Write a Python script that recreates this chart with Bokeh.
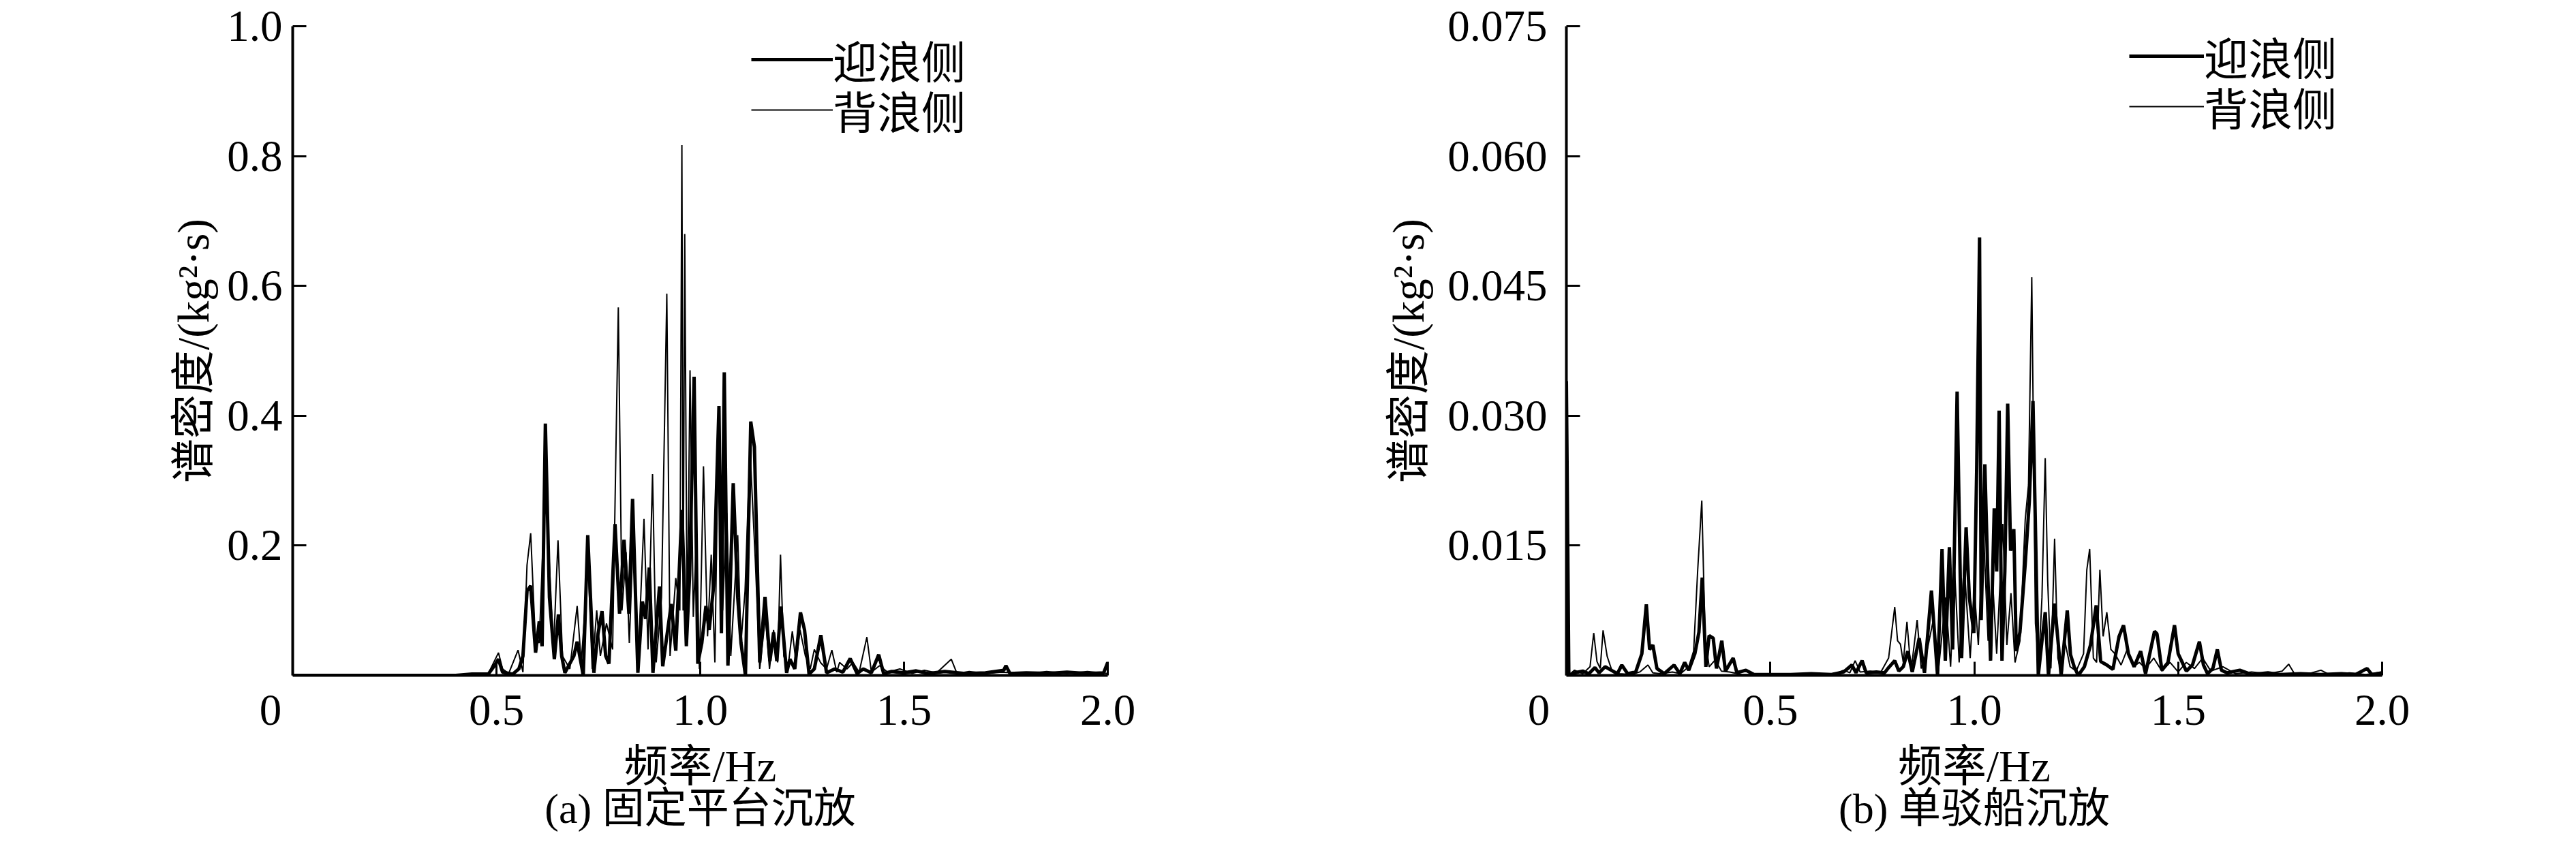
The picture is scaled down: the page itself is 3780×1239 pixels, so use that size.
from bokeh.plotting import figure
from bokeh.layouts import row
from bokeh.models import Range1d, FixedTicker, CustomJSTickFormatter, Legend, LegendItem, Title
from bokeh.embed import file_html
from bokeh.resources import INLINE

# ---------------- data ----------------
x_ticks = [0, 0.5, 1.0, 1.5, 2.0]
y_ticks_a = [0.2, 0.4, 0.6, 0.8, 1.0]
y_ticks_b = [0.015, 0.030, 0.045, 0.060, 0.075]
series_names = ["迎浪侧", "背浪侧"]
captions = ["(a) 固定平台沉放", "(b) 单驳船沉放"]
x_title = "频率/Hz"
y_title = "谱密度/(kg²·s)"

# (a) fixed platform, head-sea side (thick)
freq_a_head = [0.0, 0.40, 0.44, 0.48, 0.495, 0.505, 0.515, 0.54, 0.555, 0.565, 0.575, 0.584, 0.596, 0.605,
               0.612, 0.62, 0.63, 0.642, 0.652, 0.66, 0.668, 0.69, 0.698, 0.713, 0.724, 0.739, 0.748, 0.759,
               0.768, 0.776, 0.791, 0.802, 0.813, 0.825, 0.834, 0.847, 0.858, 0.866, 0.875, 0.884, 0.9, 0.908,
               0.918, 0.929, 0.94, 0.955, 0.966, 0.974, 0.985, 0.994, 1.004, 1.014, 1.022, 1.033, 1.046, 1.052,
               1.059, 1.068, 1.081, 1.092, 1.1, 1.111, 1.124, 1.133, 1.146, 1.159, 1.171, 1.18, 1.188, 1.198,
               1.212, 1.22, 1.232, 1.246, 1.256, 1.267, 1.28, 1.296, 1.31, 1.33, 1.35, 1.368, 1.385, 1.4, 1.42,
               1.438, 1.45, 1.47, 1.5, 1.53, 1.56, 1.6, 1.65, 1.7, 1.745, 1.75, 1.76, 1.8, 1.85, 1.9, 1.95,
               1.99, 2.0]
psd_a_head = [0.0, 0.0, 0.002, 0.002, 0.015, 0.025, 0.005, 0.002, 0.01, 0.03, 0.13, 0.138, 0.035, 0.083,
              0.045, 0.388, 0.12, 0.025, 0.094, 0.03, 0.004, 0.03, 0.052, 0.0, 0.216, 0.004, 0.06, 0.099,
              0.03, 0.018, 0.233, 0.095, 0.209, 0.095, 0.272, 0.004, 0.114, 0.087, 0.166, 0.004, 0.137, 0.014,
              0.06, 0.11, 0.038, 0.255, 0.045, 0.155, 0.46, 0.018, 0.05, 0.107, 0.07, 0.138, 0.415, 0.065,
              0.467, 0.015, 0.296, 0.12, 0.05, 0.0, 0.391, 0.352, 0.02, 0.121, 0.022, 0.066, 0.022, 0.106,
              0.004, 0.025, 0.01, 0.097, 0.07, 0.002, 0.01, 0.062, 0.004, 0.01, 0.005, 0.026, 0.003, 0.01, 0.004,
              0.032, 0.003, 0.006, 0.004, 0.007, 0.003, 0.006, 0.003, 0.004, 0.008, 0.015, 0.003, 0.004, 0.003,
              0.005, 0.003, 0.004, 0.02]

# (a) fixed platform, lee side (thin)
freq_a_back = [0.0, 0.44, 0.48, 0.505, 0.515, 0.53, 0.553, 0.565, 0.575, 0.584, 0.595, 0.605, 0.62, 0.64,
               0.651, 0.662, 0.68, 0.698, 0.708, 0.725, 0.735, 0.746, 0.755, 0.77, 0.785, 0.799, 0.808, 0.818,
               0.826, 0.836, 0.848, 0.862, 0.872, 0.883, 0.892, 0.905, 0.918, 0.926, 0.94, 0.95, 0.955, 0.958,
               0.962, 0.968, 0.975, 0.983, 0.99, 0.998, 1.008, 1.018, 1.027, 1.036, 1.045, 1.055, 1.065, 1.075,
               1.092, 1.1, 1.11, 1.122, 1.135, 1.146, 1.16, 1.17, 1.18, 1.19, 1.197, 1.205, 1.215, 1.226, 1.235,
               1.245, 1.258, 1.27, 1.28, 1.295, 1.31, 1.323, 1.335, 1.342, 1.36, 1.375, 1.39, 1.409, 1.42, 1.44,
               1.46, 1.49, 1.52, 1.55, 1.58, 1.616, 1.63, 1.66, 1.7, 1.74, 1.8, 1.85, 1.9, 1.95, 2.0]
psd_a_back = [0.0, 0.0, 0.003, 0.035, 0.01, 0.003, 0.039, 0.005, 0.17, 0.219, 0.06, 0.05, 0.30, 0.04,
              0.208, 0.03, 0.01, 0.107, 0.02, 0.17, 0.01, 0.10, 0.03, 0.08, 0.04, 0.567, 0.10, 0.19,
              0.05, 0.22, 0.03, 0.241, 0.04, 0.31, 0.02, 0.12, 0.588, 0.03, 0.15, 0.10, 0.817, 0.10,
              0.68, 0.06, 0.47, 0.09, 0.20, 0.01, 0.322, 0.06, 0.186, 0.02, 0.41, 0.10, 0.25, 0.03,
              0.216, 0.05, 0.13, 0.35, 0.18, 0.01, 0.09, 0.01, 0.07, 0.02, 0.186, 0.03, 0.01, 0.068, 0.02,
              0.07, 0.03, 0.01, 0.04, 0.02, 0.01, 0.039, 0.005, 0.02, 0.01, 0.02, 0.005, 0.059, 0.005, 0.015,
              0.005, 0.01, 0.003, 0.008, 0.004, 0.025, 0.003, 0.006, 0.003, 0.005, 0.003, 0.006, 0.003, 0.006, 0.003]

# (b) single barge, head-sea side (thick)
freq_b_head = [0.0, 0.006, 0.02, 0.04, 0.055, 0.07, 0.08, 0.095, 0.11, 0.125, 0.136, 0.15, 0.17, 0.185, 0.196,
               0.204, 0.212, 0.222, 0.24, 0.264, 0.278, 0.29, 0.3, 0.315, 0.325, 0.333, 0.342, 0.35, 0.36,
               0.368, 0.381, 0.39, 0.409, 0.418, 0.44, 0.46, 0.5, 0.55, 0.6, 0.65, 0.68, 0.7, 0.71, 0.725,
               0.735, 0.76, 0.78, 0.79, 0.805, 0.815, 0.826, 0.837, 0.848, 0.865, 0.878, 0.895, 0.91, 0.921,
               0.929, 0.939, 0.947, 0.958, 0.969, 0.98, 0.988, 0.999, 1.006, 1.013, 1.017, 1.026, 1.033, 1.04,
               1.049, 1.055, 1.061, 1.068, 1.075, 1.082, 1.089, 1.097, 1.103, 1.112, 1.125, 1.135, 1.144, 1.157,
               1.166, 1.174, 1.182, 1.197, 1.213, 1.228, 1.236, 1.245, 1.255, 1.27, 1.285, 1.299, 1.31, 1.325,
               1.34, 1.355, 1.366, 1.378, 1.392, 1.408, 1.42, 1.442, 1.448, 1.46, 1.475, 1.491, 1.5, 1.51, 1.52,
               1.535, 1.552, 1.562, 1.572, 1.585, 1.596, 1.606, 1.62, 1.651, 1.68, 1.72, 1.75, 1.8, 1.85, 1.9,
               1.935, 1.963, 1.975, 2.0]
psd_b_head = [0.034, 0.0, 0.0003, 0.0005, 0.0002, 0.0009, 0.0003, 0.001, 0.0006, 0.0002, 0.0012, 0.0002, 0.0004,
              0.0025, 0.0082, 0.003, 0.0035, 0.0008, 0.0002, 0.0012, 0.0002, 0.0015, 0.0006, 0.0025, 0.005,
              0.0113, 0.001, 0.0046, 0.0043, 0.0008, 0.004, 0.0005, 0.002, 0.0003, 0.0006, 0.0001, 0.0001,
              0.0001, 0.0002, 0.0001, 0.0004, 0.0012, 0.0003, 0.0017, 0.0003, 0.0004, 0.0003, 0.0009, 0.0017,
              0.0005, 0.001, 0.0028, 0.0004, 0.0043, 0.0003, 0.0098, 0.0, 0.0146, 0.0017, 0.0148, 0.003,
              0.0328, 0.002, 0.0171, 0.009, 0.0049, 0.024, 0.0506, 0.0064, 0.0244, 0.012, 0.0017, 0.0193,
              0.012, 0.0306, 0.0017, 0.012, 0.0314, 0.0144, 0.0169, 0.0028, 0.005, 0.0129, 0.0201, 0.0317,
              0.0, 0.004, 0.0073, 0.0, 0.0083, 0.0, 0.0075, 0.0024, 0.001, 0.0, 0.001, 0.0035, 0.0081, 0.0016,
              0.0012, 0.0007, 0.0045, 0.0058, 0.0025, 0.001, 0.0028, 0.0002, 0.0051, 0.0048, 0.0006, 0.0015,
              0.0058, 0.0025, 0.0015, 0.0005, 0.0012, 0.0039, 0.0012, 0.0002, 0.0008, 0.003, 0.0006, 0.0003,
              0.0006, 0.0001, 0.0003, 0.0001, 0.0002, 0.0001, 0.0002, 0.0001, 0.0008, 0.0001, 0.0003]

# (b) single barge, lee side (thin)
freq_b_back = [0.0, 0.005, 0.02, 0.04, 0.058, 0.067, 0.075, 0.083, 0.09, 0.1, 0.112, 0.13, 0.16, 0.18, 0.2,
               0.212, 0.23, 0.26, 0.28, 0.3, 0.312, 0.322, 0.332, 0.34, 0.35, 0.365, 0.38, 0.4, 0.43, 0.5,
               0.6, 0.66, 0.68, 0.695, 0.708, 0.72, 0.745, 0.77, 0.79, 0.805, 0.812, 0.819, 0.826, 0.835,
               0.845, 0.86, 0.87, 0.885, 0.9, 0.912, 0.93, 0.942, 0.952, 0.963, 0.975, 0.99, 1.0, 1.01,
               1.022, 1.034, 1.045, 1.055, 1.07, 1.08, 1.09, 1.1, 1.112, 1.125, 1.133, 1.141, 1.15, 1.158,
               1.166, 1.174, 1.18, 1.188, 1.197, 1.205, 1.215, 1.222, 1.235, 1.25, 1.268, 1.276, 1.283,
               1.292, 1.3, 1.308, 1.316, 1.325, 1.335, 1.345, 1.36, 1.375, 1.39, 1.405, 1.42, 1.44, 1.46,
               1.48, 1.5, 1.52, 1.54, 1.56, 1.58, 1.61, 1.64, 1.68, 1.72, 1.755, 1.771, 1.785, 1.82, 1.85,
               1.87, 1.92, 1.96, 2.0]
psd_b_back = [0.028, 0.0, 0.0006, 0.0002, 0.001, 0.0049, 0.0016, 0.0008, 0.0052, 0.0022, 0.0005, 0.0002,
              0.0001, 0.0004, 0.0012, 0.0003, 0.0002, 0.0004, 0.0002, 0.001, 0.0028, 0.0122, 0.0202, 0.0045,
              0.001, 0.0018, 0.0005, 0.0004, 0.0001, 0.0001, 0.0001, 0.0002, 0.0006, 0.0003, 0.0017, 0.0004,
              0.0005, 0.0003, 0.002, 0.0079, 0.004, 0.0036, 0.0015, 0.0062, 0.0005, 0.0064, 0.0008, 0.003,
              0.0065, 0.0005, 0.009, 0.001, 0.012, 0.0015, 0.013, 0.002, 0.01, 0.0035, 0.0175, 0.004, 0.011,
              0.0025, 0.0175, 0.0035, 0.0095, 0.0015, 0.004, 0.018, 0.022, 0.046, 0.006, 0.0012, 0.009,
              0.0251, 0.011, 0.0008, 0.0158, 0.002, 0.0, 0.004, 0.001, 0.0005, 0.0025, 0.0122, 0.0146,
              0.002, 0.0015, 0.0122, 0.0045, 0.0073, 0.003, 0.0025, 0.0012, 0.003, 0.001, 0.0015, 0.0008,
              0.002, 0.0005, 0.0015, 0.0004, 0.0015, 0.0008, 0.002, 0.0005, 0.001, 0.0002, 0.0004, 0.0002,
              0.0005, 0.0013, 0.0002, 0.0002, 0.0006, 0.0001, 0.0003, 0.0001, 0.0004]

# ---------------- style ----------------
FONT = "Liberation Serif, Noto Sans CJK SC"
FS = "65px"
TOP = 38          # canvas px above the frame
FRAME_H = 953     # frame bottom sits at page y = 8 + 38 + 953 = 999
BOTTOM = 232


def make_panel(fh, ph, fb, pb, ymax, yticks, ydigits, caption, frame_w, bl, br,
               ytick_standoff, ylab_standoff, leg_x, leg_lines, glyph_w, zero_pad):
    p = figure(x_range=Range1d(0, 2.0), y_range=Range1d(0, ymax),
               frame_width=frame_w, frame_height=FRAME_H,
               min_border_left=bl, min_border_right=br, min_border_top=TOP, min_border_bottom=BOTTOM,
               output_backend="svg", toolbar_location=None)
    p.outline_line_color = None
    p.grid.visible = False
    p.background_fill_color = "white"
    p.border_fill_color = "white"

    r_back = p.line(fb, pb, line_color="black", line_width=2)
    r_head = p.line(fh, ph, line_color="black", line_width=5)

    for ax in (p.xaxis[0], p.yaxis[0]):
        ax.axis_line_width = 4
        ax.axis_line_color = "black"
        ax.major_tick_line_width = 3
        ax.major_tick_line_color = "black"
        ax.major_tick_in = 20
        ax.major_tick_out = 0
        ax.minor_tick_line_color = None
        ax.major_label_text_font = FONT
        ax.major_label_text_font_size = FS
        ax.major_label_text_color = "black"
        ax.axis_label_text_font = FONT
        ax.axis_label_text_font_size = FS
        ax.axis_label_text_font_style = "normal"
        ax.axis_label_text_color = "black"

    p.xaxis.ticker = FixedTicker(ticks=x_ticks)
    p.xaxis.formatter = CustomJSTickFormatter(
        code="return tick === 0 ? '0' + '\\u00a0'.repeat(%d) : tick.toFixed(1);" % zero_pad)
    p.xaxis.major_label_standoff = 14
    p.xaxis.axis_label = x_title
    p.xaxis.axis_label_standoff = 8

    p.yaxis.ticker = FixedTicker(ticks=yticks)
    p.yaxis.formatter = CustomJSTickFormatter(code="return tick.toFixed(%d);" % ydigits)
    p.yaxis.major_label_standoff = ytick_standoff
    p.yaxis.axis_label = y_title
    p.yaxis.axis_label_standoff = ylab_standoff

    p.add_layout(Title(text=caption, align="center", text_font=FONT, text_font_size="62px",
                       text_font_style="normal", text_color="black", standoff=-26), "below")

    # two single-row legends, so that the row spacing matches the original
    for (name, rend), line_y in zip([(series_names[0], r_head), (series_names[1], r_back)], leg_lines):
        leg = Legend(items=[LegendItem(label=name, renderers=[rend])],
                     location=(leg_x, 999 - (line_y + 56)),
                     glyph_width=glyph_w, glyph_height=60, label_height=60,
                     label_standoff=0, padding=0, margin=0, spacing=0,
                     border_line_color=None, background_fill_alpha=0,
                     label_text_font=FONT, label_text_font_size=FS, label_text_color="black")
        p.add_layout(leg)
    return p


pa = make_panel(freq_a_head, psd_a_head, freq_a_back, psd_a_back, 1.0, y_ticks_a, 1, captions[0],
                frame_w=1196, bl=429, br=265, ytick_standoff=15, ylab_standoff=10,
                leg_x=673, leg_lines=[86, 160], glyph_w=120, zero_pad=4)
pb = make_panel(freq_b_head, psd_b_head, freq_b_back, psd_b_back, 0.075, y_ticks_b, 3, captions[1],
                frame_w=1197, bl=408, br=150, ytick_standoff=28, ylab_standoff=18,
                leg_x=826, leg_lines=[81, 155], glyph_w=110, zero_pad=5)

layout = row(pa, pb)
open("out.html", "w").write(file_html(layout, INLINE))
